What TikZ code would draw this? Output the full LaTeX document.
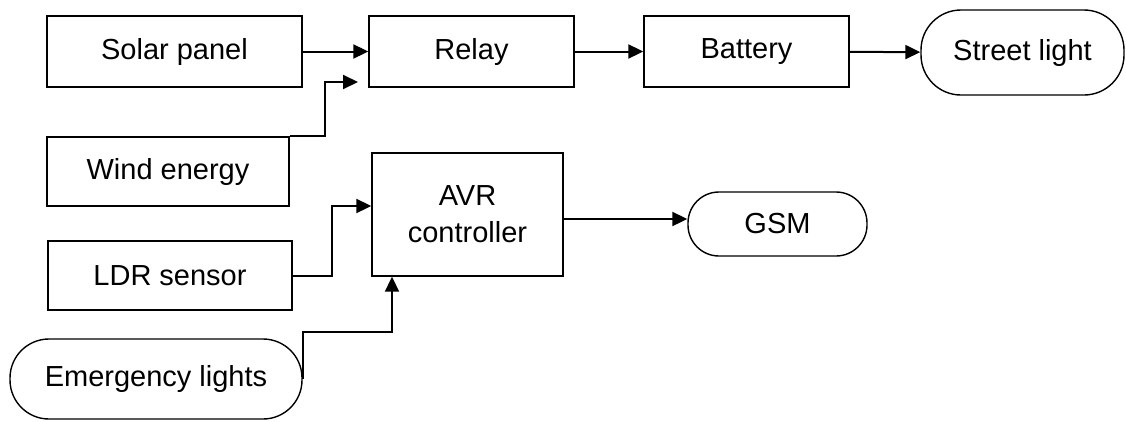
\documentclass[tikz,border=0pt]{standalone}
\usepackage{fontspec}
\setmainfont{Liberation Sans}
\usetikzlibrary{arrows.meta}

\begin{document}
\begin{tikzpicture}[x=1pt, y=-1pt,
    block/.style={rectangle, draw, line width=1.4pt, inner sep=0pt, font=\fontsize{29}{37}\selectfont},
    term/.style={rectangle, rounded corners=31pt, draw, line width=1.4pt, inner sep=0pt, font=\fontsize{29}{37}\selectfont},
    arr/.style={-{Triangle[length=15pt, width=14pt]}, line width=2pt}]
    \useasboundingbox (0,0) rectangle (1126,421);

    \node[block, minimum width=255pt, minimum height=71pt] (solar) at (174.5, 51.5) {Solar panel};
    \node[block, minimum width=205pt, minimum height=71pt] (relay) at (471.5, 51.5) {Relay};
    \node[block, minimum width=205pt, minimum height=71pt] (battery) at (746.5, 51.5) {Battery};
    \node[term, rounded corners=40pt, minimum width=203pt, minimum height=85pt] (street) at (1022.5, 52.5) {Street light};
    \node[block, minimum width=242pt, minimum height=69pt] (wind) at (168, 171.5) {Wind energy};
    \node[block, minimum width=191pt, minimum height=123pt, align=center] (avr) at (467.5, 214.5) {AVR\\controller};
    \node[term, minimum width=179pt, minimum height=64pt] (gsm) at (777.5, 224) {GSM};
    \node[block, minimum width=244pt, minimum height=69pt] (ldr) at (170, 275.5) {LDR sensor};
    \node[term, rounded corners=39pt, minimum width=292pt, minimum height=80pt] (emerg) at (156, 379) {Emergency lights};

    \coordinate (windin) at (358, 82);

    % top row
    \draw[arr] (solar) -- (relay);
    \draw[arr] (wind.north east) -- ++(35,0) |- (windin);
    \draw[arr] (relay) -- (battery);
    \draw[arr] (battery) -- (street);
    % inputs of the controller
    \draw[arr] (ldr.east) -- ++(39,0) |- ([yshift=8.5pt]avr.west);
    \draw[arr] (emerg.east) -- ++(0,-47) -| ([xshift=-75.5pt]avr.south);
    \draw[arr] ([yshift=-4.5pt]avr.east) -- ([yshift=5pt]gsm.west);

\end{tikzpicture}
\end{document}
